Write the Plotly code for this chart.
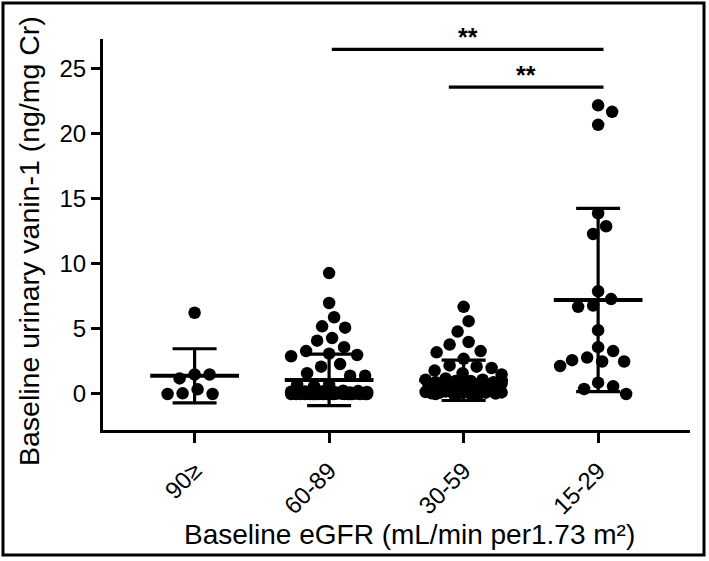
import math
import plotly.graph_objects as go

# ---------------- data ----------------
categories = ["90≥", "60-89", "30-59", "15-29"]

vanin_ge90 = [6.25, 1.5, 1.5, 1.2, 0.36, 0.05, 0.0, 0.0]

vanin_60_89 = [9.3, 7.0, 5.9, 5.2, 5.1, 4.3, 4.1, 3.6, 3.3, 3.1, 3.0, 2.9, 2.3, 2.1,
               1.6, 1.4, 1.4, 0.7, 0.7, 0.6,
               0.25, 0.22, 0.2, 0.2, 0.18, 0.15, 0.15, 0.12, 0.12, 0.1, 0.1, 0.1,
               0.08, 0.08, 0.06, 0.05, 0.05, 0.05, 0.04, 0.03, 0.03, 0.02, 0.02,
               0.01, 0.01, 0.0, 0.0, 0.0, 0.0, 0.0, 0.0, 0.0, 0.0, 0.0, 0.0, 0.0,
               0.0, 0.0, 0.0, 0.0, 0.0, 0.0, 0.0, 0.0]

vanin_30_59 = [6.7, 5.6, 4.8, 4.0, 3.8, 3.3, 3.2, 2.7, 2.2, 2.1, 2.0, 1.8, 1.6, 1.5,
               1.2, 1.1, 1.1, 1.0, 1.0, 0.9, 0.9, 0.8,
               0.75, 0.7, 0.7, 0.6, 0.6, 0.55, 0.5, 0.5,
               0.45, 0.4, 0.4, 0.35, 0.3, 0.3, 0.25, 0.2,
               0.15, 0.12, 0.1, 0.1, 0.08, 0.05, 0.05, 0.03, 0.02, 0.0, 0.0, 0.0]

vanin_15_29 = [22.2, 21.7, 20.7, 13.9, 12.9, 12.3, 7.9, 7.3, 6.8, 6.7, 4.9, 3.6,
               3.3, 2.8, 2.6, 2.5, 2.5, 2.15, 0.87, 0.6, 0.38, 0.0]

group_values = [vanin_ge90, vanin_60_89, vanin_30_59, vanin_15_29]

# mean and SD bars
group_means = [1.4, 1.08, 1.05, 7.23]
group_sds = [2.08, 1.98, 1.55, 7.05]

# significance comparisons (group index pairs) and labels
sig_from = [1, 2]
sig_to = [3, 3]
sig_level = [26.5, 23.6]
sig_text = ["**", "**"]

y_ticks = [0, 5, 10, 15, 20, 25]

# ---------------- geometry helpers ----------------
X_RANGE = [-0.681, 3.683]
Y_RANGE = [-2.77, 27.3]
PLOT_W = 587
PLOT_H = 391
PX_PER_CAT = PLOT_W / (X_RANGE[1] - X_RANGE[0])
PX_PER_UNIT = PLOT_H / (Y_RANGE[1] - Y_RANGE[0])
MARKER = 12.5
SPACING = 15.0
HALF_WIDTH_PX = 38
FONT = "Liberation Sans, Arial"


def swarm_offsets(vals):
    """Deterministic beeswarm: horizontal offsets (in category units)."""
    cands = [0.0]
    k = 1
    while k <= HALF_WIDTH_PX:
        cands += [float(k), float(-k)]
        k += 1
    placed = []
    offs = []
    for v in vals:
        y = v * PX_PER_UNIT
        best, best_d = 0.0, -1.0
        for c in cands:
            md = min((math.hypot(c - px, y - py) for px, py in placed), default=1e9)
            if md >= SPACING:
                best = c
                break
            if md > best_d:
                best_d, best = md, c
        placed.append((best, y))
        offs.append(best / PX_PER_CAT)
    return offs


fig = go.Figure()

# points
for i, vals in enumerate(group_values):
    offs = swarm_offsets(vals)
    fig.add_trace(go.Scatter(
        x=[i + o for o in offs], y=vals, mode="markers",
        marker=dict(size=MARKER, color="black", line=dict(width=0)),
        showlegend=False, hoverinfo="y"))

# mean bars
mx, my = [], []
for i, m in enumerate(group_means):
    mx += [i - 0.33, i + 0.33, None]
    my += [m, m, None]
fig.add_trace(go.Scatter(x=mx, y=my, mode="lines",
                         line=dict(color="black", width=4),
                         showlegend=False, hoverinfo="skip"))

# SD error bars
fig.add_trace(go.Scatter(
    x=list(range(len(categories))), y=group_means, mode="markers",
    marker=dict(size=1, color="rgba(0,0,0,0)"),
    error_y=dict(type="data", array=group_sds, symmetric=True,
                 color="black", thickness=3.2, width=22),
    showlegend=False, hoverinfo="skip"))

shapes = []
annotations = []
for a, b, lvl, t in zip(sig_from, sig_to, sig_level, sig_text):
    x0 = a + (0.02 if b - a > 1 else -0.11)
    x1 = b + 0.04
    shapes.append(dict(type="line", xref="x", yref="y", x0=x0, x1=x1,
                       y0=lvl, y1=lvl, line=dict(color="black", width=3.2)))
    annotations.append(dict(x=(x0 + x1) / 2, y=lvl, xref="x", yref="y",
                            text="<b>" + t + "</b>", showarrow=False,
                            yanchor="bottom", yshift=-4,
                            font=dict(size=25, color="black", family=FONT)))

# outer frame
shapes.append(dict(type="rect", xref="paper", yref="paper",
                   x0=(3 - 103) / PLOT_W, x1=(704 - 103) / PLOT_W,
                   y0=(430 - 555) / PLOT_H, y1=(430 - 3) / PLOT_H,
                   line=dict(color="black", width=3), fillcolor="rgba(0,0,0,0)"))

# axis titles
annotations.append(dict(text="Baseline eGFR (mL/min per1.73 m²)",
                        xref="paper", yref="paper",
                        x=(409 - 103) / PLOT_W, y=(430 - 534) / PLOT_H,
                        xanchor="center", yanchor="middle", showarrow=False,
                        font=dict(size=28, color="black", family=FONT)))
annotations.append(dict(text="Baseline urinary vanin-1 (ng/mg Cr)",
                        xref="paper", yref="paper", textangle=-90,
                        x=(29 - 103) / PLOT_W, y=(430 - 241) / PLOT_H,
                        xanchor="center", yanchor="middle", showarrow=False,
                        font=dict(size=28.5, color="black", family=FONT)))

fig.update_layout(
    width=709, height=561,
    margin=dict(l=103, r=19, t=39, b=131, pad=0),
    paper_bgcolor="white", plot_bgcolor="white",
    font=dict(family=FONT, color="black", size=24),
    shapes=shapes, annotations=annotations,
    xaxis=dict(range=X_RANGE, tickvals=list(range(len(categories))),
               ticktext=categories, tickangle=-45, ticks="outside",
               ticklen=10, tickwidth=3, tickcolor="black",
               ticklabelstandoff=4,
               showline=True, linewidth=3, linecolor="black",
               showgrid=False, zeroline=False,
               tickfont=dict(size=24, color="black")),
    yaxis=dict(range=Y_RANGE, tickvals=y_ticks, ticks="outside",
               ticklen=9, tickwidth=3, tickcolor="black",
               showline=True, linewidth=3, linecolor="black",
               showgrid=False, zeroline=False,
               tickfont=dict(size=24, color="black")),
)

fig.write_html("out.html",
               config={"displayModeBar": False},
               post_script="document.body.style.margin='0px';"
                           "document.body.style.overflow='hidden';")
